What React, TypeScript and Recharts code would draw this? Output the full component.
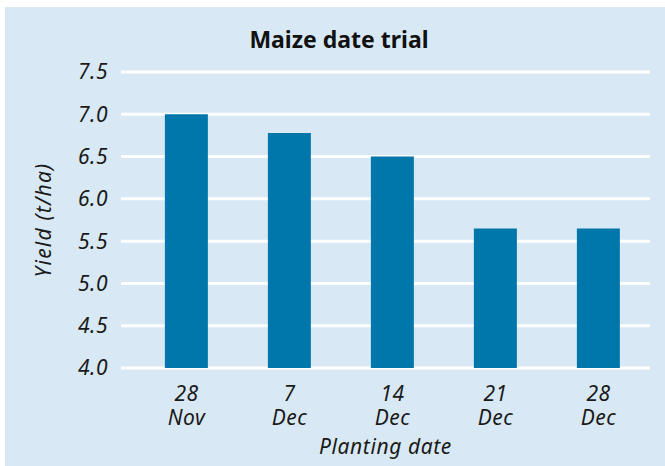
import React from "react";
import { Bar, BarChart, CartesianGrid, XAxis, YAxis } from "recharts";

const plantingDates = ["28 Nov", "7 Dec", "14 Dec", "21 Dec", "28 Dec"];
const yieldValues = [7.0, 6.78, 6.5, 5.65, 5.65];
const yTicks = [4.0, 4.5, 5.0, 5.5, 6.0, 6.5, 7.0, 7.5];

const data = plantingDates.map((d, i) => ({ date: d, yield: yieldValues[i] }));

const FONT = "'Noto Sans', 'Open Sans', sans-serif";

const DateTick = (props: any) => {
  const { x, y, payload } = props;
  const [day, month] = String(payload.value).split(" ");
  return (
    <g transform={`translate(${x},${y})`}>
      <text
        textAnchor="middle"
        fontFamily={FONT}
        fontStyle="italic"
        fontSize={21}
        fill="#1a1a1a"
        letterSpacing={0.5}
      >
        <tspan x={0} dy={25}>{day}</tspan>
        <tspan x={0} dy={24}>{month}</tspan>
      </text>
    </g>
  );
};

export default function App() {
  return (
    <div style={{ position: "fixed", top: 0, left: 0, width: 665, height: 466, background: "#fff" }}>
      <div
        style={{
          position: "absolute",
          left: 5,
          top: 7,
          width: 660,
          height: 459,
          background: "#d8e9f5",
        }}
      />
      <div style={{ position: "absolute", left: 0, top: 0 }}>
        <BarChart
          width={665}
          height={466}
          data={data}
          margin={{ top: 72, right: 15, bottom: 0, left: 0 }}
          barCategoryGap="29%"
        >
          <text
            x={339}
            y={48}
            textAnchor="middle"
            fontFamily={FONT}
            fontWeight="bold"
            fontSize={23}
            fill="#111"
          >
            Maize date trial
          </text>
          <CartesianGrid vertical={false} stroke="#ffffff" strokeWidth={3} />
          <XAxis
            dataKey="date"
            axisLine={false}
            tickLine={false}
            height={98}
            padding={{ left: 14, right: 0 }}
            tick={<DateTick />}
            interval={0}
            label={{
              value: "Planting date",
              position: "insideBottom",
              offset: 12,
              fontFamily: FONT,
              fontStyle: "italic",
              fontSize: 21,
              letterSpacing: 0.6,
              fill: "#1a1a1a",
            }}
          />
          <YAxis
            domain={[4, 7.5]}
            ticks={yTicks}
            width={121}
            axisLine={false}
            tickLine={false}
            tickSize={0}
            tickMargin={13}
            tickFormatter={(v: number) => v.toFixed(1)}
            tick={{ fontFamily: FONT, fontStyle: "italic", fontSize: 21, fill: "#1a1a1a", letterSpacing: 0.5 }}
            label={{
              value: "Yield (t/ha)",
              angle: -90,
              position: "insideLeft",
              offset: 44,
              fontFamily: FONT,
              fontStyle: "italic",
              fontSize: 21,
              letterSpacing: 1.2,
              fill: "#1a1a1a",
              style: { textAnchor: "middle" },
            }}
          />
          <Bar dataKey="yield" fill="#0077aa" isAnimationActive={false} />
        </BarChart>
      </div>
    </div>
  );
}
